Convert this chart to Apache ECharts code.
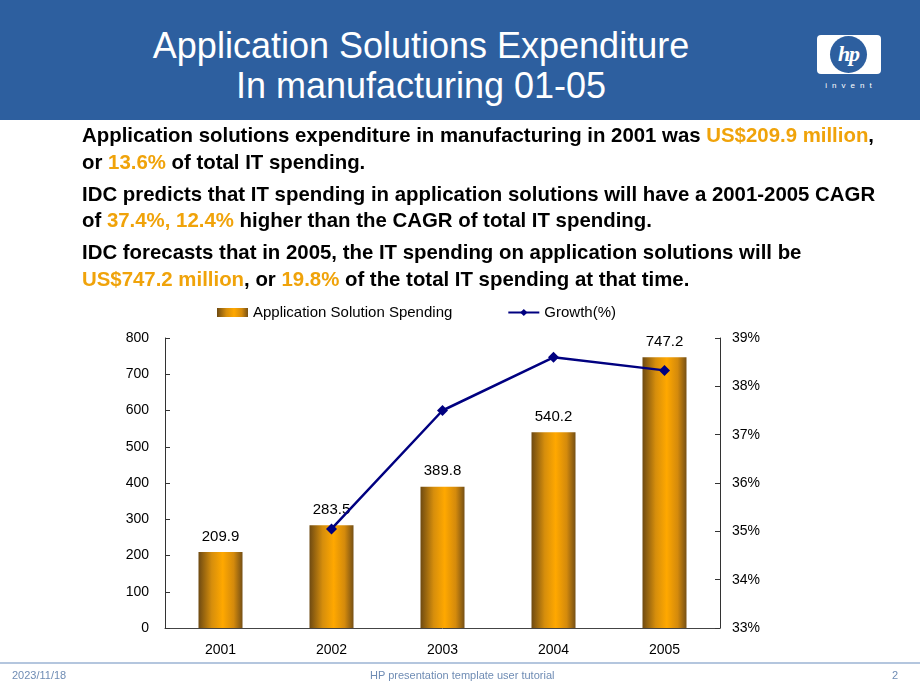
<!DOCTYPE html>
<html>
<head>
<meta charset="utf-8">
<script src="https://cdn.jsdelivr.net/npm/echarts@6/dist/echarts.min.js"></script>
<style>
  html, body { margin: 0; padding: 0; background: #fff; }
  #wrap { position: relative; width: 920px; height: 690px; overflow: hidden; font-family: "Liberation Sans", Arial, sans-serif; }
  #chart { position: absolute; left: 0; top: 0; width: 920px; height: 690px; }
  #banner { position: absolute; left: 0; top: 0; width: 920px; height: 120px; background: #2d5f9f; }
  #title { position: absolute; left: 0; top: 26px; width: 842px; text-align: center; color: #fff; font-size: 36px; line-height: 40px; }
  #logo { position: absolute; left: 817px; top: 35px; width: 64px; height: 39px; background: #fff; border-radius: 4px; }
  #logo .c { position: absolute; left: 13px; top: 1px; width: 37px; height: 37px; border-radius: 50%; background: #2d5f9f; color: #fff; font: italic bold 22px "Liberation Serif", serif; text-align: center; line-height: 35px; letter-spacing: -1px; }
  #invent { position: absolute; left: 817px; top: 81px; width: 68px; text-align: center; color: #fff; font-size: 8px; letter-spacing: 5px; }
  #text { position: absolute; left: 82px; top: 122px; width: 805px; font-weight: bold; font-size: 20.4px; color: #000; line-height: 26.5px; }
  #text p { margin: 0 0 5.5px 0; }
  .o { color: #f0a30a; }
  #footline { position: absolute; left: 0; top: 662px; width: 920px; height: 2px; background: #b4c6de; }
  .ft { position: absolute; top: 669px; font-size: 11px; color: #6f8cb4; }
</style>
</head>
<body>
<div id="wrap">
  <div id="chart"></div>
  <div id="banner">
    <div id="title">Application Solutions Expenditure<br>In manufacturing 01-05</div>
    <div id="logo"><div class="c">hp</div></div>
    <div id="invent">invent</div>
  </div>
  <div id="text">
    <p>Application solutions expenditure in manufacturing in 2001 was <span class="o">US$209.9 million</span>, or <span class="o">13.6%</span> of total IT spending.</p>
    <p>IDC predicts that IT spending in application solutions will have a 2001-2005 CAGR of <span class="o">37.4%, 12.4%</span> higher than the CAGR of total IT spending.</p>
    <p>IDC forecasts that in 2005, the IT spending on application solutions will be <span class="o">US$747.2 million</span>, or <span class="o">19.8%</span> of the total IT spending at that time.</p>
  </div>
  <div id="footline"></div>
  <div class="ft" style="left:12px;">2023/11/18</div>
  <div class="ft" style="left:370px;">HP presentation template user tutorial</div>
  <div class="ft" style="left:892px;">2</div>
</div>
<script>
const years = ['2001', '2002', '2003', '2004', '2005'];
const spending = [209.9, 283.5, 389.8, 540.2, 747.2];
const growth = [null, 35.05, 37.5, 38.6, 38.33];
const leftTicks = [0, 800, 100];
const rightTicks = [33, 39, 1];

const barGrad = new echarts.graphic.LinearGradient(0, 0, 1, 0, [
  { offset: 0, color: '#6e4a12' },
  { offset: 0.3, color: '#d68e0c' },
  { offset: 0.55, color: '#ffa800' },
  { offset: 0.8, color: '#d48a0c' },
  { offset: 1, color: '#765015' }
]);

const chart = echarts.init(document.getElementById('chart'));
chart.setOption({
  animation: false,
  textStyle: { fontFamily: 'Liberation Sans, Arial, sans-serif' },
  grid: { left: 165, right: 200, top: 338, bottom: 62 },
  legend: {
    top: 300, left: 212, itemGap: 55,
    textStyle: { fontSize: 15, color: '#000' },
    data: [
      { name: 'Application Solution Spending', icon: 'rect', itemStyle: { color: barGrad } },
      { name: 'Growth(%)' }
    ],
    itemWidth: 31, itemHeight: 9
  },
  xAxis: {
    type: 'category', data: years,
    axisLine: { lineStyle: { color: '#444', width: 1 } },
    axisTick: { show: false },
    axisLabel: { color: '#000', fontSize: 14, margin: 15 }
  },
  yAxis: [
    {
      type: 'value', min: leftTicks[0], max: leftTicks[1], interval: leftTicks[2],
      axisLine: { show: true, lineStyle: { color: '#333' } },
      axisTick: { show: true, inside: true, length: 5, lineStyle: { color: '#333' } },
      axisLabel: { color: '#000', fontSize: 14, margin: 16 },
      splitLine: { show: false }
    },
    {
      type: 'value', min: rightTicks[0], max: rightTicks[1], interval: rightTicks[2],
      position: 'right',
      axisLine: { show: true, lineStyle: { color: '#333' } },
      axisTick: { show: true, inside: true, length: 5, lineStyle: { color: '#333' } },
      axisLabel: { color: '#000', fontSize: 14, margin: 12, formatter: '{value}%' },
      splitLine: { show: false }
    }
  ],
  series: [
    {
      name: 'Application Solution Spending', type: 'bar', data: spending,
      barWidth: 44,
      itemStyle: { color: barGrad },
      label: { show: true, position: 'top', distance: 8, color: '#000', fontSize: 15 }
    },
    {
      name: 'Growth(%)', type: 'line', yAxisIndex: 1, data: growth,
      connectNulls: false,
      symbol: 'diamond', symbolSize: 11, showAllSymbol: true,
      lineStyle: { color: '#000080', width: 2.5 },
      itemStyle: { color: '#000080' }
    }
  ]
});
</script>
</body>
</html>
